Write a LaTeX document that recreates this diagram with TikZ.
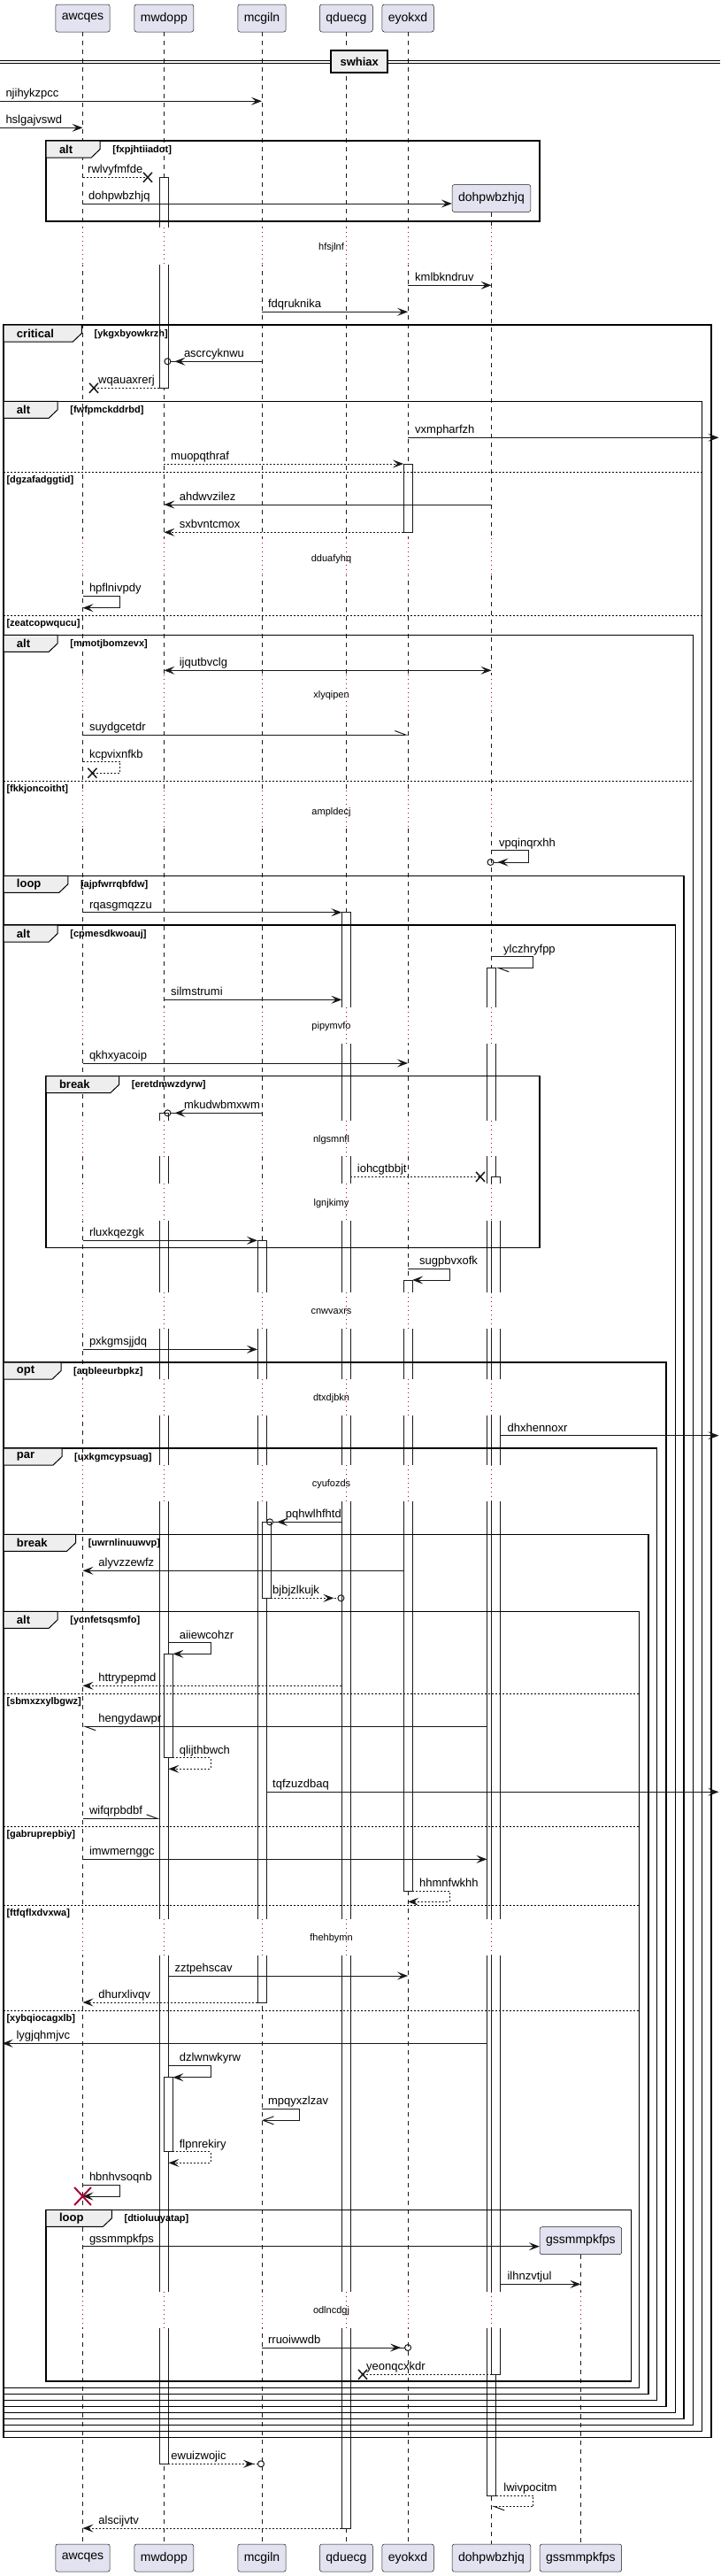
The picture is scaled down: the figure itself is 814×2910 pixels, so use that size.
\documentclass[tikz,border=0pt]{standalone}
\usepackage{fontspec}
\setmainfont{Liberation Sans}
\usepackage{tikz}
\usetikzlibrary{arrows.meta, positioning}
\definecolor{partfill}{HTML}{E2E2F0}
\definecolor{ink}{HTML}{181818}
\definecolor{tabfill}{HTML}{EEEEEE}
\definecolor{delayred}{HTML}{A80036}
\tikzstyle{msg} = [draw=ink, line width=1pt, -{Stealth[length=12pt,width=9pt,inset=5pt]}]

% fragment tab: x, y, tab width, kind, guard
\newcommand{\fragtab}[5]{%
  \draw[tabshape] (#1,#2) -- ++(#3,0) -- ++(0,9.5) -- ++(-10,9.5) -- (#1,#2+19) -- cycle;
  \node[tabtxt] (kind-#5) at (#1+14.6,#2+9.6) {#4};
  \node[cond] (guard-#5) at (#1+#3+14,#2+10.2) {[#5]};}
% else separator: y, right edge, guard
\newcommand{\elsebar}[3]{%
  \draw[elseline] (4.2,#1) -- (#2,#1);
  \node[cond] (guard-#3) at (7.3,#1+9.4) {[#3]};}
\newcommand{\xcross}[1]{%
  \draw[xmark] (#1) +(-5,-5.5) -- +(5,5.5) +(-5,5.5) -- +(5,-5.5);}

\begin{document}
\begin{tikzpicture}[
        x=1pt, y=-1pt,
        party/.style={draw=ink, line width=0.5pt, fill=partfill, rounded corners=2.5pt,
                      minimum height=31pt, inner xsep=7pt, inner ysep=0pt,
                      font=\fontsize{14}{16}\selectfont},
        life/.style={draw=ink, line width=0.5pt, dash pattern=on 5pt off 5pt},
        delayline/.style={draw=delayred, line width=0.8pt, dash pattern=on 1pt off 4pt},
        actbar/.style={draw=ink, line width=1pt, fill=white},
        ret/.style={msg, dash pattern=on 2pt off 2pt},
        retx/.style={draw=ink, line width=1pt, dash pattern=on 2pt off 2pt},
        circ/.style={draw=ink, line width=1pt,
                     -{Stealth[length=12pt,width=9pt,inset=5pt,sep=4pt]Circle[open,length=8pt,width=8pt]}},
        retcirc/.style={circ, dash pattern=on 2pt off 2pt},
        both/.style={draw=ink, line width=1pt,
                     {Stealth[length=12pt,width=9pt,inset=5pt]}-{Stealth[length=12pt,width=9pt,inset=5pt]}},
        halfhead/.style={draw=ink, line width=1pt, -{Straight Barb[left,length=12pt,width=9pt]}},
        rethalf/.style={halfhead, dash pattern=on 2pt off 2pt},
        openhead/.style={draw=ink, line width=1pt, -{Straight Barb[length=12pt,width=9pt]}},
        lbl/.style={font=\fontsize{13}{15}\selectfont, inner sep=0pt, anchor=base west},
        frm/.style={draw=black, line width=1.5pt},
        tabshape/.style={draw=black, line width=1pt, fill=tabfill},
        tabtxt/.style={font=\bfseries\fontsize{13}{15}\selectfont, inner sep=0pt, anchor=west},
        cond/.style={font=\bfseries\fontsize{11}{13}\selectfont, inner sep=0pt, anchor=west},
        elseline/.style={draw=black, line width=0.8pt, dash pattern=on 2pt off 2pt},
        delaytxt/.style={font=\fontsize{11}{13}\selectfont, inner sep=0pt},
        xmark/.style={draw=ink, line width=1.5pt},
        destroy/.style={draw=delayred, line width=2pt}
    ]
    \useasboundingbox (0,0) rectangle (814,2910);
    \fill[white] (0,0) rectangle (814,2910);

    % --- participants ---
    \node[party] (awcqes) at (93.5,20.5) {awcqes};
    \node[party] (mwdopp) at (185.4,20.5) {mwdopp};
    \node[party] (mcgiln) at (296,20.5) {mcgiln};
    \node[party] (qduecg) at (391.4,20.5) {qduecg};
    \node[party] (eyokxd) at (461.1,20.5) {eyokxd};
    \node[party] (dohpwbzhjq) at (555.5,224) {dohpwbzhjq};
    \node[party] (gssmmpkfps) at (656.4,2531.2) {gssmmpkfps};

    \node[party] (awcqes-f) at (93.5,2889.5) {awcqes};
    \node[party] (mwdopp-f) at (185.4,2889.5) {mwdopp};
    \node[party] (mcgiln-f) at (296,2889.5) {mcgiln};
    \node[party] (qduecg-f) at (391.4,2889.5) {qduecg};
    \node[party] (eyokxd-f) at (461.1,2889.5) {eyokxd};
    \node[party] (dohpwbzhjq-f) at (555.5,2889.5) {dohpwbzhjq};
    \node[party] (gssmmpkfps-f) at (656.4,2889.5) {gssmmpkfps};

    \foreach \p in {awcqes,mwdopp,mcgiln,qduecg,eyokxd,dohpwbzhjq,gssmmpkfps}
        \draw[life] (\p.south) -- (\p-f.north);

    % --- bar edges and diagram edges ---
    \coordinate (lft) at (0,0);
    \coordinate (rgt) at (812.5,0);
    \coordinate (lfe) at (2.6,0);
    \coordinate (mwL) at ([xshift=-5pt]mwdopp.center);
    \coordinate (mwR) at ([xshift=5pt]mwdopp.center);
    \coordinate (mwR2) at ([xshift=10pt]mwdopp.center);
    \coordinate (mcL) at ([xshift=-5pt]mcgiln.center);
    \coordinate (mcR) at ([xshift=5pt]mcgiln.center);
    \coordinate (mcR2) at ([xshift=10pt]mcgiln.center);
    \coordinate (qdL) at ([xshift=-5pt]qduecg.center);
    \coordinate (qdR) at ([xshift=5pt]qduecg.center);
    \coordinate (eyL) at ([xshift=-5pt]eyokxd.center);
    \coordinate (eyR) at ([xshift=5pt]eyokxd.center);
    \coordinate (doL) at ([xshift=-5pt]dohpwbzhjq.center);
    \coordinate (doR) at ([xshift=5pt]dohpwbzhjq.center);
    \coordinate (doR2) at ([xshift=10pt]dohpwbzhjq.center);

    % --- activations ---
    \draw[actbar] (mwL |- 0,200.3) rectangle (mwR |- 0,438.3);
    \draw[actbar] (mwL |- 0,1257.3) rectangle (mwR |- 0,2783.3);
    \draw[actbar] (mwdopp |- 0,1868.3) rectangle (mwR2 |- 0,1985.7);
    \draw[actbar] (mwdopp |- 0,2346.7) rectangle (mwR2 |- 0,2430.7);
    \draw[actbar] (eyL |- 0,524) rectangle (eyR |- 0,601.3);
    \draw[actbar] (eyL |- 0,1446) rectangle (eyR |- 0,2136);
    \draw[actbar] (qdL |- 0,1030.7) rectangle (qdR |- 0,2856);
    \draw[actbar] (doL |- 0,1093.3) rectangle (doR |- 0,2819);
    \draw[actbar] (dohpwbzhjq |- 0,1329.3) rectangle (doR2 |- 0,2682.3);
    \draw[actbar] (mcL |- 0,1401.3) rectangle (mcR |- 0,2262);
    \draw[actbar] (mcgiln |- 0,1719.3) rectangle (mcR2 |- 0,1805.3);

    % --- delays ---
    \foreach \ya/\yb/\yt/\dname in {257.3/299.3/279.3/hfsjlnf, 608.3/650.3/631.5/dduafyhq,
            762.3/804.3/786/xlyqipen, 893.3/935.3/918/ampldecj, 1137.7/1179.3/1160/pipymvfo,
            1265.7/1306/1287.7/nlgsmnfl, 1337.3/1379/1359.3/lgnjkimy, 1460/1501/1481.7/cnwvaxrs,
            1557.7/1599.3/1579.3/dtxdjbkn, 1655/1695.7/1676.7/cyufozds,
            2168.3/2209.3/2189.3/fhehbymn, 2588.7/2630/2611/odlncdgj}{
        \fill[white] (60,\ya) rectangle (680,\yb);
        \foreach \p in {awcqes,mwdopp,mcgiln,qduecg,eyokxd,dohpwbzhjq}
            \draw[delayline] (\p |- 0,\ya) -- (\p |- 0,\yb);
        \node[delaytxt] (delay-\dname) at (374.5,\yt) {\dname};
    }
    \draw[delayline] (gssmmpkfps |- 0,2588.7) -- (gssmmpkfps |- 0,2630);

    % --- divider ---
    \draw[line width=1pt] (0,68.3) -- (814,68.3) (0,71) -- (814,71);
    \node[draw=black, line width=2pt, fill=tabfill, inner sep=0pt, minimum width=63.6pt,
          minimum height=25.3pt, font=\bfseries\fontsize{13}{15}\selectfont] (swhiax) at (406.2,69.4) {swhiax};

    % --- fragments ---
    \draw[frm] (52.2,159) rectangle (610,250);
    \draw[frm] (4.2,367) rectangle (804.2,2753.3);
    \draw[frm] (4.2,453.3) rectangle (793.7,2746.3);
    \draw[frm] (4.2,717.3) rectangle (783.3,2739.3);
    \draw[frm] (4.2,989.3) rectangle (772.8,2732.3);
    \draw[frm] (4.2,1045) rectangle (763.4,2725.3);
    \draw[frm] (52.2,1215.7) rectangle (610,1409.3);
    \draw[frm] (4.2,1539) rectangle (753,2718.3);
    \draw[frm] (4.2,1636) rectangle (742.6,2711.3);
    \draw[frm] (4.2,1733.3) rectangle (733.2,2704.3);
    \draw[frm] (4.2,1820.3) rectangle (722.7,2697.3);
    \draw[frm] (52.2,2496.3) rectangle (713.3,2690);

    \fragtab{52.2}{159}{61}{alt}{fxpjhtiiadot}
    \fragtab{4.2}{367}{88.2}{critical}{ykgxbyowkrzh}
    \fragtab{4.2}{453.3}{61}{alt}{fwfpmckddrbd}
    \fragtab{4.2}{717.3}{61}{alt}{mmotjbomzevx}
    \fragtab{4.2}{989.3}{72.6}{loop}{ajpfwrrqbfdw}
    \fragtab{4.2}{1045}{61}{alt}{cpmesdkwoauj}
    \fragtab{52.2}{1215.7}{82.5}{break}{eretdmwzdyrw}
    \fragtab{4.2}{1539}{64.8}{opt}{aqbleeurbpkz}
    \fragtab{4.2}{1636}{65.8}{par}{uxkgmcypsuag}
    \fragtab{4.2}{1733.3}{81.4}{break}{uwrnlinuuwvp}
    \fragtab{4.2}{1820.3}{61}{alt}{ycnfetsqsmfo}
    \fragtab{52.2}{2496.3}{74.2}{loop}{dtioluuyatap}

    \elsebar{533.3}{793.7}{dgzafadggtid}
    \elsebar{695}{793.7}{zeatcopwqucu}
    \elsebar{882.3}{783.3}{fkkjoncoitht}
    \elsebar{1913.3}{722.7}{sbmxzxylbgwz}
    \elsebar{2063.3}{722.7}{gabruprepbiy}
    \elsebar{2152.3}{722.7}{ftfqflxdvxwa}
    \elsebar{2271}{722.7}{xybqiocagxlb}

    % --- messages ---
    \coordinate (x1) at (167,200.3);
    \coordinate (x2) at (106,438.3);
    \coordinate (x3) at (104.4,873.3);
    \coordinate (x4) at (543,1329.3);
    \coordinate (x5) at (410,2682.3);

    \draw[msg] (lft |- 0,114.3) -- (mcgiln |- 0,114.3);
    \node[lbl] (t-njihykzpcc) at (6.3,109.8) {njihykzpcc};
    \draw[msg] (lft |- 0,144.3) -- (awcqes |- 0,144.3);
    \node[lbl] (t-hslgajvswd) at (6.3,139.8) {hslgajvswd};
    \draw[retx] (awcqes |- 0,200.3) -- (x1); \xcross{x1}
    \node[lbl] (t-rwlvyfmfde) at (99,195.8) {rwlvyfmfde};
    \draw[msg] (awcqes |- 0,230) -- (dohpwbzhjq.west |- 0,230);
    \node[lbl] (t-dohpwbzhjq) at (100,225.5) {dohpwbzhjq};
    \draw[msg] (eyokxd |- 0,322.3) -- (dohpwbzhjq |- 0,322.3);
    \node[lbl] (t-kmlbkndruv) at (469,317.8) {kmlbkndruv};
    \draw[msg] (mcgiln |- 0,352.3) -- (eyokxd |- 0,352.3);
    \node[lbl] (t-fdqruknika) at (302.9,347.8) {fdqruknika};
    \draw[circ] (mcgiln |- 0,408.3) -- (mwdopp |- 0,408.3);
    \node[lbl] (t-ascrcyknwu) at (207.8,403.8) {ascrcyknwu};
    \draw[retx] (mwL |- 0,438.3) -- (x2); \xcross{x2}
    \node[lbl] (t-wqauaxrerj) at (111,433.8) {wqauaxrerj};
    \draw[msg] (eyokxd |- 0,494.3) -- (rgt |- 0,494.3);
    \node[lbl] (t-vxmpharfzh) at (469,489.8) {vxmpharfzh};
    \draw[ret] (mwdopp |- 0,524) -- (eyL |- 0,524);
    \node[lbl] (t-muopqthraf) at (193,519.5) {muopqthraf};
    \draw[msg] (dohpwbzhjq |- 0,570) -- (mwdopp |- 0,570);
    \node[lbl] (t-ahdwvzilez) at (202.6,565.5) {ahdwvzilez};
    \draw[ret] (eyL |- 0,601.3) -- (mwdopp |- 0,601.3);
    \node[lbl] (t-sxbvntcmox) at (202.6,596.8) {sxbvntcmox};
    \draw[msg] (awcqes |- 0,673.3) -- ++(42.3,0) -- ++(0,13.4) -- (awcqes |- 0,686.7);
    \node[lbl] (t-hpflnivpdy) at (100.8,668.8) {hpflnivpdy};
    \draw[both] (mwdopp |- 0,757.3) -- (dohpwbzhjq |- 0,757.3);
    \node[lbl] (t-ijqutbvclg) at (202.6,752.8) {ijqutbvclg};
    \draw[halfhead] (awcqes |- 0,830) -- (eyokxd |- 0,830);
    \node[lbl] (t-suydgcetdr) at (100.8,825.5) {suydgcetdr};
    \draw[retx] (awcqes |- 0,860.7) -- ++(42.3,0) -- ++(0,12.6) -- (x3); \xcross{x3}
    \node[lbl] (t-kcpvixnfkb) at (100.8,856.2) {kcpvixnfkb};
    \draw[circ] (dohpwbzhjq |- 0,960.7) -- ++(41.8,0) -- ++(0,13.3) -- (doL |- 0,974);
    \node[lbl] (t-vpqinqrxhh) at (564,956.2) {vpqinqrxhh};
    \draw[msg] (awcqes |- 0,1030.7) -- (qdL |- 0,1030.7);
    \node[lbl] (t-rqasgmqzzu) at (100.8,1026.2) {rqasgmqzzu};
    \draw[halfhead] (dohpwbzhjq |- 0,1080.7) -- ++(47.4,0) -- ++(0,12.6) -- (doR |- 0,1093.3);
    \node[lbl] (t-ylczhryfpp) at (569,1076.2) {ylczhryfpp};
    \draw[msg] (mwdopp |- 0,1129.3) -- (qdL |- 0,1129.3);
    \node[lbl] (t-silmstrumi) at (193,1124.8) {silmstrumi};
    \draw[msg] (awcqes |- 0,1201) -- (eyokxd |- 0,1201);
    \node[lbl] (t-qkhxyacoip) at (100.8,1196.5) {qkhxyacoip};
    \draw[circ] (mcgiln |- 0,1257.3) -- (mwdopp |- 0,1257.3);
    \node[lbl] (t-mkudwbmxwm) at (207.8,1252.8) {mkudwbmxwm};
    \draw[retx] (qdR |- 0,1329.3) -- (x4); \xcross{x4}
    \node[lbl] (t-iohcgtbbjt) at (403.7,1324.8) {iohcgtbbjt};
    \draw[msg] (awcqes |- 0,1401.3) -- (mcL |- 0,1401.3);
    \node[lbl] (t-rluxkqezgk) at (100.8,1396.8) {rluxkqezgk};
    \draw[msg] (eyokxd |- 0,1433.3) -- ++(47,0) -- ++(0,12.7) -- (eyR |- 0,1446);
    \node[lbl] (t-sugpbvxofk) at (474,1428.8) {sugpbvxofk};
    \draw[msg] (awcqes |- 0,1524.3) -- (mcL |- 0,1524.3);
    \node[lbl] (t-pxkgmsjjdq) at (100.8,1519.8) {pxkgmsjjdq};
    \draw[msg] (doR2 |- 0,1621.7) -- (rgt |- 0,1621.7);
    \node[lbl] (t-dhxhennoxr) at (573.4,1617.2) {dhxhennoxr};
    \draw[circ] (qdL |- 0,1719.3) -- (mcR |- 0,1719.3);
    \node[lbl] (t-pqhwlhfhtd) at (322.7,1714.8) {pqhwlhfhtd};
    \draw[msg] (eyL |- 0,1774.3) -- (awcqes |- 0,1774.3);
    \node[lbl] (t-alyvzzewfz) at (111.2,1769.8) {alyvzzewfz};
    \draw[retcirc, shorten >=2pt] (mcR2 |- 0,1805.3) -- (qduecg |- 0,1805.3);
    \node[lbl] (t-bjbjzlkujk) at (308,1800.8) {bjbjzlkujk};
    \draw[msg] (mwR |- 0,1855.7) -- ++(47.6,0) -- ++(0,12.6) -- (mwR2 |- 0,1868.3);
    \node[lbl] (t-aiiewcohzr) at (202.6,1851.2) {aiiewcohzr};
    \draw[ret] (qdL |- 0,1904.3) -- (awcqes |- 0,1904.3);
    \node[lbl] (t-httrypepmd) at (111.2,1899.8) {httrypepmd};
    \draw[halfhead] (doL |- 0,1950.3) -- (awcqes |- 0,1950.3);
    \node[lbl] (t-hengydawpr) at (111.2,1945.8) {hengydawpr};
    \draw[ret] (mwR2 |- 0,1985.7) -- ++(42.6,0) -- ++(0,12.6) -- (mwR |- 0,1998.3);
    \node[lbl] (t-qlijthbwch) at (202.6,1981.2) {qlijthbwch};
    \draw[msg] (mcR |- 0,2024.3) -- (rgt |- 0,2024.3);
    \node[lbl] (t-tqfzuzdbaq) at (308,2019.8) {tqfzuzdbaq};
    \draw[halfhead] (awcqes |- 0,2054.3) -- (mwL |- 0,2054.3);
    \node[lbl] (t-wifqrpbdbf) at (100.8,2049.8) {wifqrpbdbf};
    \draw[msg] (awcqes |- 0,2100.3) -- (doL |- 0,2100.3);
    \node[lbl] (t-imwmernggc) at (100.8,2095.8) {imwmernggc};
    \draw[ret] (eyR |- 0,2136) -- ++(42,0) -- ++(0,12.3) -- (eyokxd |- 0,2148.3);
    \node[lbl] (t-hhmnfwkhh) at (474,2131.5) {hhmnfwkhh};
    \draw[msg] (mwR |- 0,2232) -- (eyokxd |- 0,2232);
    \node[lbl] (t-zztpehscav) at (197.4,2227.5) {zztpehscav};
    \draw[ret] (mcL |- 0,2262) -- (awcqes |- 0,2262);
    \node[lbl] (t-dhurxlivqv) at (111.2,2257.5) {dhurxlivqv};
    \draw[msg] (doL |- 0,2308.3) -- (lfe |- 0,2308.3);
    \node[lbl] (t-lygjqhmjvc) at (18.3,2303.8) {lygjqhmjvc};
    \draw[msg] (mwR |- 0,2333.3) -- ++(47.6,0) -- ++(0,13.4) -- (mwR2 |- 0,2346.7);
    \node[lbl] (t-dzlwnwkyrw) at (202.6,2328.8) {dzlwnwkyrw};
    \draw[openhead] (mcgiln |- 0,2382.3) -- ++(42.4,0) -- ++(0,13) -- (mcgiln |- 0,2395.3);
    \node[lbl] (t-mpqyxzlzav) at (302.9,2377.8) {mpqyxzlzav};
    \draw[ret] (mwR2 |- 0,2430.7) -- ++(42.6,0) -- ++(0,12.6) -- (mwR |- 0,2443.3);
    \node[lbl] (t-flpnrekiry) at (202.6,2426.2) {flpnrekiry};
    \draw[msg] (awcqes |- 0,2468.3) -- ++(42.3,0) -- ++(0,12.7) -- (awcqes |- 0,2481);
    \node[lbl] (t-hbnhvsoqnb) at (100.8,2463.8) {hbnhvsoqnb};
    \draw[destroy] (awcqes |- 0,2481) +(-9.4,-10) -- +(9.4,10) +(-9.4,10) -- +(9.4,-10);
    \draw[msg] (awcqes |- 0,2537.7) -- (gssmmpkfps.west |- 0,2537.7);
    \node[lbl] (t-gssmmpkfps) at (100.8,2533.2) {gssmmpkfps};
    \draw[msg] (doR2 |- 0,2580.3) -- (gssmmpkfps |- 0,2580.3);
    \node[lbl] (t-ilhnzvtjul) at (573.4,2575.8) {ilhnzvtjul};
    \draw[circ, shorten >=-4pt] (mcgiln |- 0,2652) -- (eyokxd |- 0,2652);
    \node[lbl] (t-rruoiwwdb) at (302.9,2647.5) {rruoiwwdb};
    \draw[retx] (dohpwbzhjq |- 0,2682.3) -- (x5); \xcross{x5}
    \node[lbl] (t-yeonqcxkdr) at (414,2677.8) {yeonqcxkdr};
    \draw[retcirc, shorten >=-3pt] (mwR |- 0,2783.3) -- (mcgiln |- 0,2783.3);
    \node[lbl] (t-ewuizwojic) at (193.2,2778.8) {ewuizwojic};
    \draw[rethalf] (doR |- 0,2819) -- ++(42.4,0) -- ++(0,12.3) -- (dohpwbzhjq |- 0,2831.3);
    \node[lbl] (t-lwivpocitm) at (569.2,2814.5) {lwivpocitm};
    \draw[ret] (qdL |- 0,2856) -- (awcqes |- 0,2856);
    \node[lbl] (t-alscijvtv) at (111.2,2851.5) {alscijvtv};

\end{tikzpicture}
\end{document}
